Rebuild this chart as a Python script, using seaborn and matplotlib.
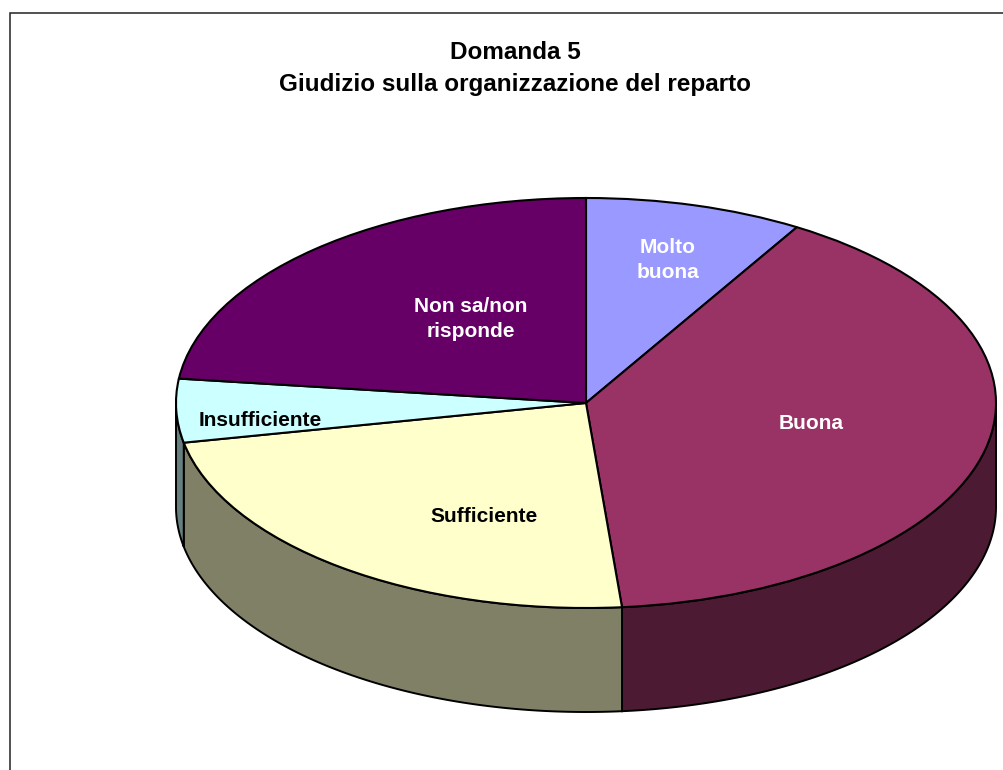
import numpy as np
import matplotlib
matplotlib.use("Agg")
import matplotlib.pyplot as plt
import matplotlib.colors as mcolors
import seaborn as sns

title_lines = ["Domanda 5", "Giudizio sulla organizzazione del reparto"]
categories = ["Molto\nbuona", "Buona", "Sufficiente", "Insufficiente", "Non sa/non\nrisponde"]
shares = [8.6, 40.0, 23.3, 5.0, 23.1]
top_colors = ["#9999FF", "#993366", "#FFFFCC", "#CCFFFF", "#660066"]
label_colors = ["white", "white", "black", "black", "white"]
label_pixels = [(668, 260), (811, 424), (484, 516), (260, 421), (471, 319)]

W, H = 1004, 770
CX, CY, RX, RY = 586, 403, 410, 205
DEPTH = 104 / RY

sns.set_theme(style="white")
plt.rcParams["font.family"] = ["Liberation Sans", "DejaVu Sans"]


def to_data(px, py):
    return (px - CX) / RX, (CY - py) / RY


fig = plt.figure(figsize=(W / 100, H / 100), dpi=100, facecolor="white")
ax = fig.add_axes([0, 0, 1, 1])

# side of the cake first, only the part facing the viewer shows
edges = 90 - np.cumsum([0] + shares) / sum(shares) * 360
for i, color in enumerate(top_colors):
    a1, a0 = edges[i], edges[i + 1]
    # lower half of the ellipse is -180..0 deg
    lo, hi = max(a0, -180), min(a1, 0)
    if lo >= hi:
        continue
    t = np.radians(np.linspace(lo, hi, 120))
    x = np.cos(t)
    y = np.sin(t)
    ax.fill(np.r_[x, x[::-1]], np.r_[y, y[::-1] - DEPTH],
            facecolor=np.array(mcolors.to_rgb(color)) * 0.5,
            edgecolor="black", linewidth=1.4, zorder=1)

ax.pie(shares, colors=top_colors, startangle=90, counterclock=False, radius=1,
       wedgeprops={"edgecolor": "black", "linewidth": 1.5, "zorder": 2})
ax.set_aspect("auto")
ax.set_xlim(to_data(0, 0)[0], to_data(W, 0)[0])
ax.set_ylim(to_data(0, H)[1], to_data(0, 0)[1])

for name, color, (px, py) in zip(categories, label_colors, label_pixels):
    x, y = to_data(px, py)
    ax.text(x, y, name, color=color, fontsize=15, fontweight="bold",
            ha="center", va="center", linespacing=1.4, zorder=5)

fig.text(515 / W, 1 - 52.5 / H, title_lines[0], fontsize=17.5, fontweight="bold",
         ha="center", va="center", color="black")
fig.text(515 / W, 1 - 84 / H, title_lines[1], fontsize=17.5, fontweight="bold",
         ha="center", va="center", color="black")

# chart border, right and bottom fall outside the image
fig.add_artist(plt.Rectangle((9.5 / W, -0.1), 1.2, 1.1 - 13 / H, transform=fig.transFigure,
                             fill=False, edgecolor="#222222", linewidth=1.1))

fig.savefig("out.png", dpi=100)
